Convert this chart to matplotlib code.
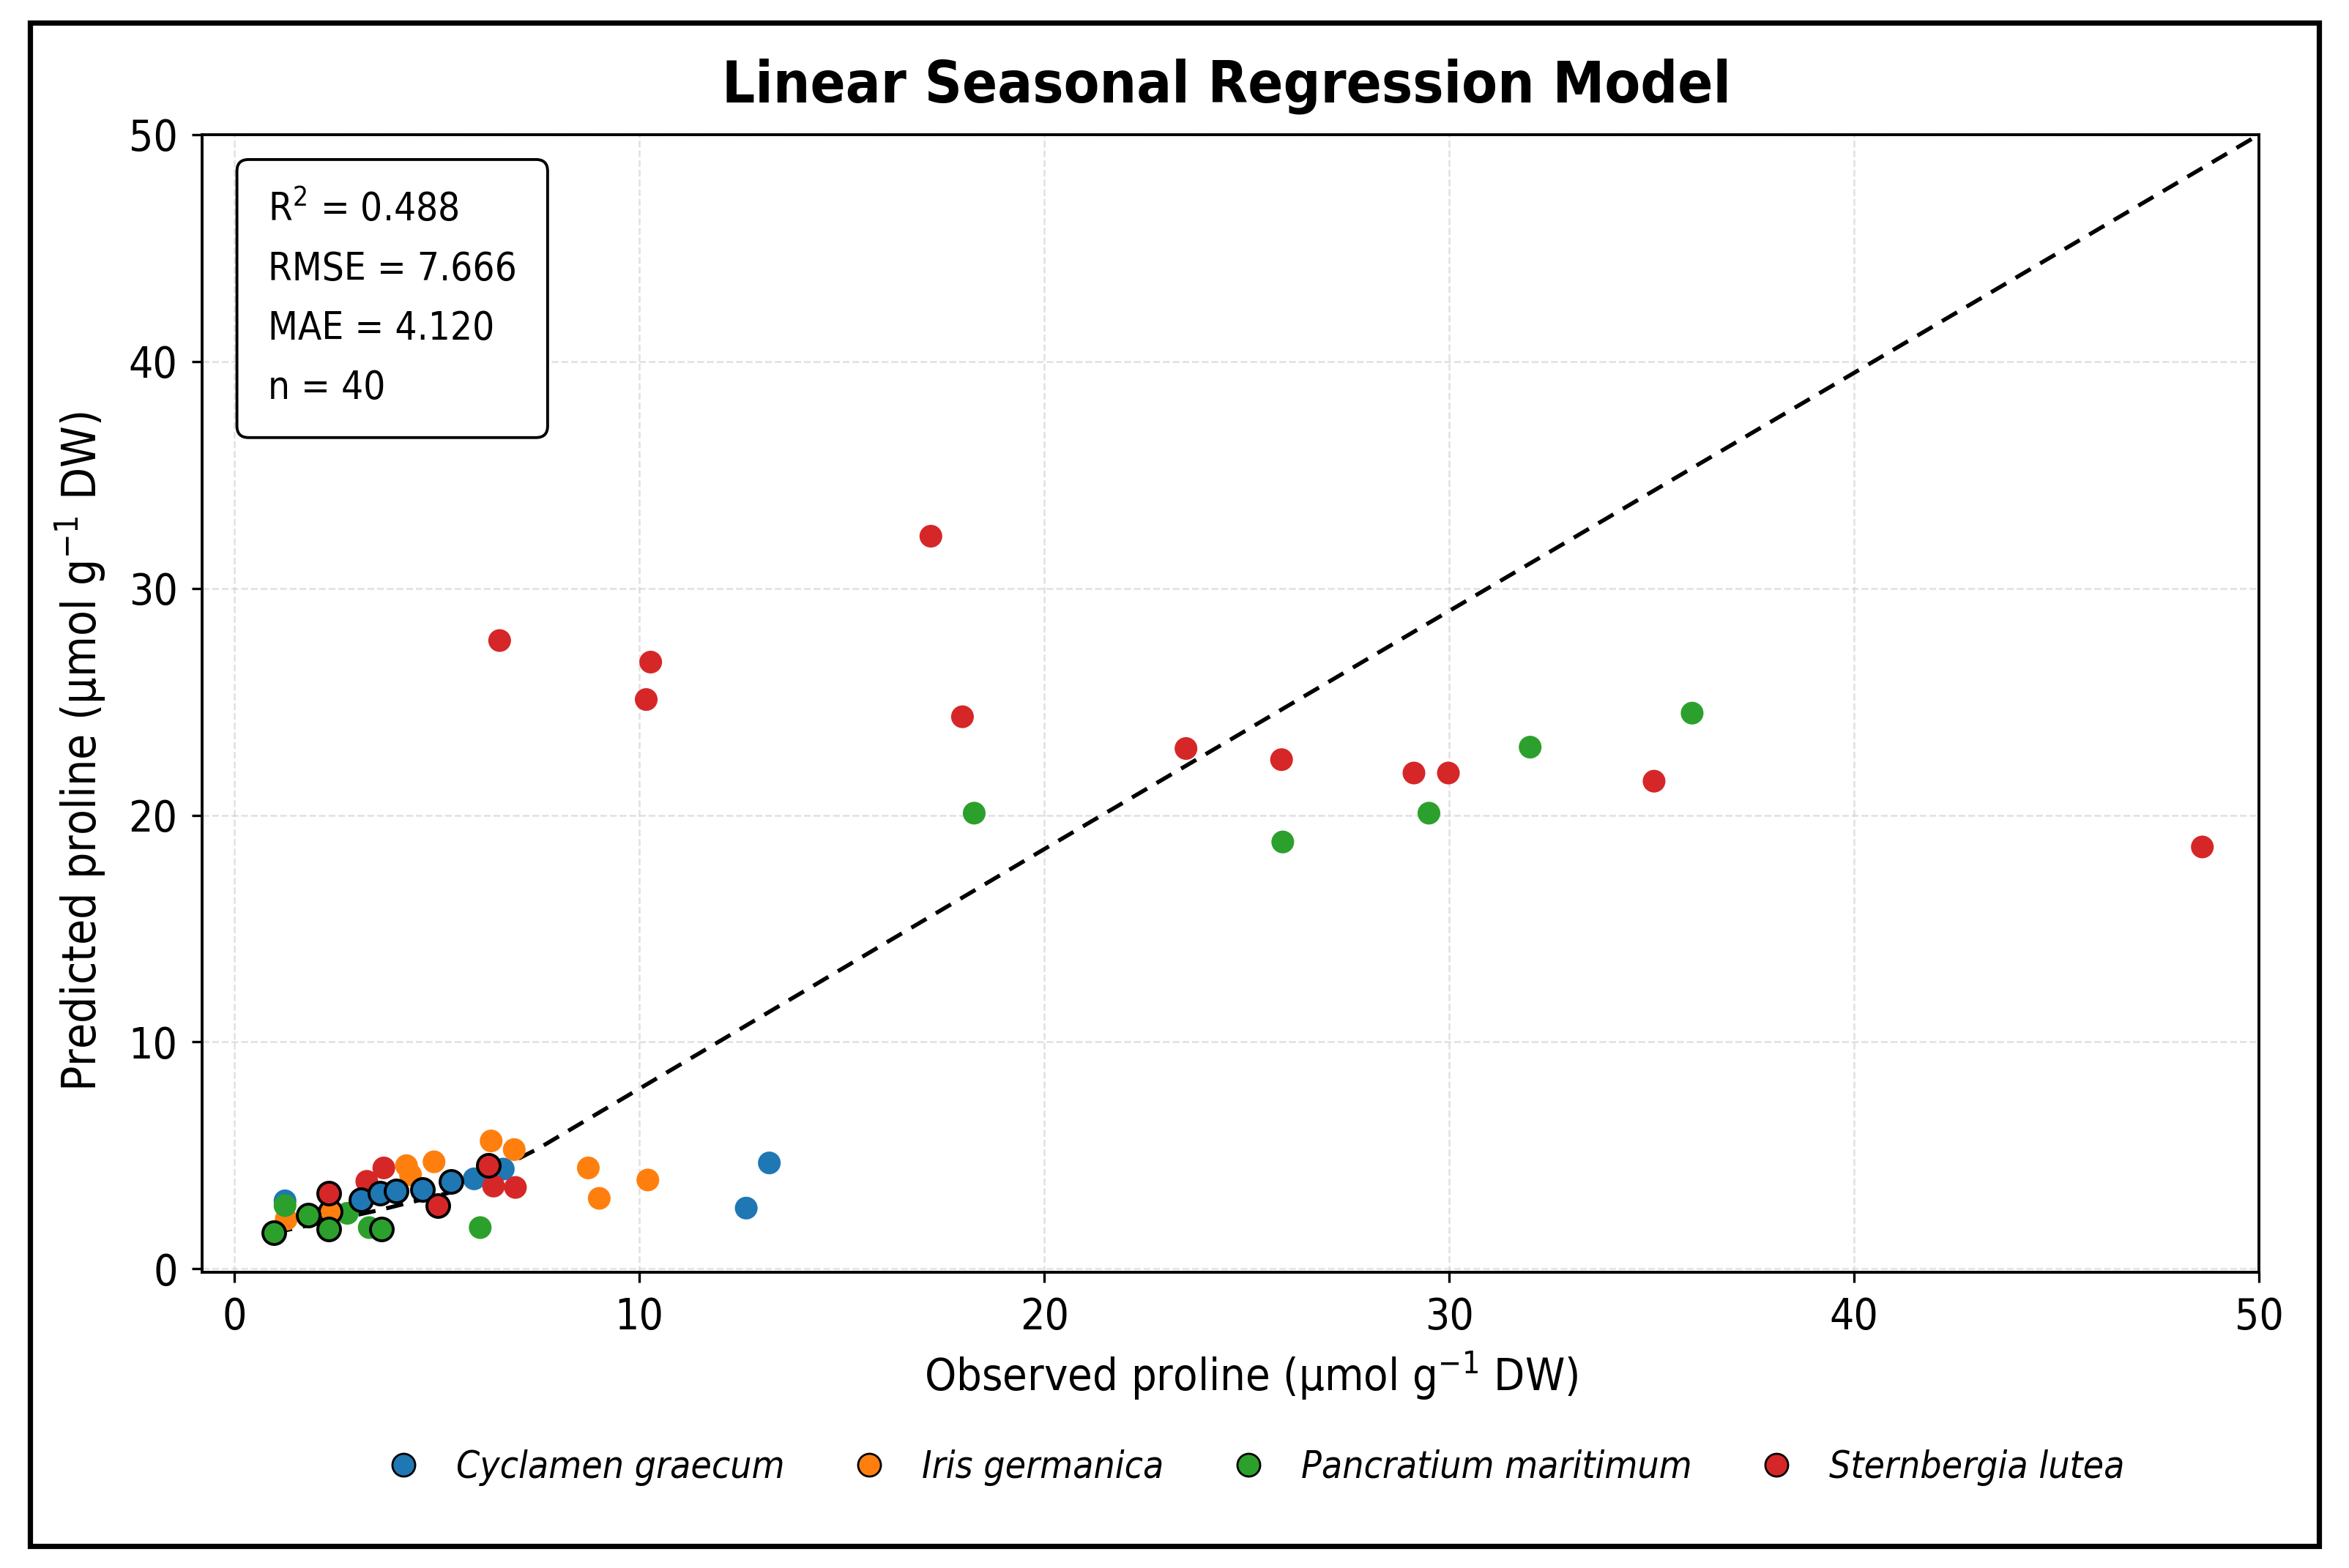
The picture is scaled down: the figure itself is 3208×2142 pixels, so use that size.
import matplotlib
matplotlib.use("Agg")
from matplotlib import pyplot as plt
from matplotlib.lines import Line2D
from matplotlib.patches import Rectangle

# observed vs predicted proline
species = ["Cyclamen graecum", "Iris germanica", "Pancratium maritimum", "Sternbergia lutea"]
colors = ["#1f77b4", "#ff7f0e", "#2ca02c", "#d62728"]

cyclamen_obs = [1.25, 3.12, 3.60, 3.99, 4.65, 5.35, 5.92, 6.64, 12.64, 13.21]
cyclamen_pred = [3.00, 3.06, 3.32, 3.43, 3.49, 3.86, 3.97, 4.40, 2.68, 4.67]
cyclamen_outline = [0, 1, 1, 1, 1, 1, 0, 0, 0, 0]

iris_obs = [1.28, 2.36, 4.25, 4.35, 4.93, 6.34, 6.91, 8.74, 9.01, 10.21]
iris_pred = [2.19, 2.52, 4.55, 4.15, 4.72, 5.64, 5.26, 4.45, 3.11, 3.92]
iris_outline = [0, 1, 0, 0, 0, 0, 0, 0, 0, 0]

pancratium_obs = [0.98, 1.25, 1.82, 2.33, 2.79, 3.33, 3.63, 6.07, 18.27, 25.89, 29.50, 32.00, 36.00]
pancratium_pred = [1.60, 2.79, 2.36, 1.77, 2.45, 1.82, 1.77, 1.82, 20.09, 18.82, 20.09, 23.00, 24.50]
pancratium_outline = [1, 0, 1, 1, 0, 0, 1, 0, 0, 0, 0, 0, 0]

sternbergia_obs = [2.33, 3.27, 3.69, 5.02, 6.28, 6.40, 6.94, 6.55, 10.28, 10.17, 17.20, 17.98,
                   23.50, 25.86, 29.13, 29.98, 35.06, 48.60]
sternbergia_pred = [3.35, 3.86, 4.45, 2.79, 4.56, 3.65, 3.59, 27.70, 26.75, 25.10, 32.30, 24.34,
                    22.94, 22.45, 21.86, 21.86, 21.50, 18.60]
sternbergia_outline = [1, 0, 0, 1, 1, 0, 0, 0, 0, 0, 0, 0, 0, 0, 0, 0, 0, 0]

# dashed reference line as it runs in the picture
ref_x = [1.0, 3.6, 5.4, 7.5, 19.9, 50.0]
ref_y = [1.6, 2.6, 3.4, 5.3, 18.4, 50.0]

stats_text = "R$^2$ = 0.488\nRMSE = 7.666\nMAE = 4.120\nn = 40"

groups = [
    (cyclamen_obs, cyclamen_pred, cyclamen_outline),
    (iris_obs, iris_pred, iris_outline),
    (pancratium_obs, pancratium_pred, pancratium_outline),
    (sternbergia_obs, sternbergia_pred, sternbergia_outline),
]

plt.rcParams['font.family'] = ['DejaVu Sans']
plt.rcParams['font.stretch'] = 'condensed'
plt.rcParams['mathtext.fontset'] = 'dejavusans'

fig = plt.figure(figsize=(16.04, 10.71), dpi=200)
ax = fig.add_axes([0.086, 0.1886, 0.8757, 0.7255])

ax.plot(ref_x, ref_y, color="black", linewidth=2.0, dashes=(4.3, 2.7), zorder=2)

for (obs, pred, outline), col in zip(groups, colors):
    plain = [i for i, o in enumerate(outline) if not o]
    ringed = [i for i, o in enumerate(outline) if o]
    ax.scatter([obs[i] for i in plain], [pred[i] for i in plain], s=125, color=col,
               edgecolors="none", zorder=3)
    ax.scatter([obs[i] for i in ringed], [pred[i] for i in ringed], s=125, color=col,
               edgecolors="black", linewidths=1.4, zorder=4)

ax.set_xlim(-0.8, 50)
ax.set_ylim(-0.15, 50)
ax.set_xticks(range(0, 51, 10))
ax.set_yticks(range(0, 51, 10))
ax.grid(True, linestyle="--", color="#cccccc", alpha=0.6, linewidth=0.9)
ax.set_axisbelow(True)
ax.tick_params(labelsize=21, length=5, width=1.2, pad=7)
for sp in ax.spines.values():
    sp.set_linewidth(1.4)

ax.set_xlabel("Observed proline (\u03bcmol g$^{-1}$ DW)", fontsize=22)
ax.set_ylabel("Predicted proline (\u03bcmol g$^{-1}$ DW)", fontsize=23)
ax.xaxis.set_label_coords(0.510, -0.068)
ax.yaxis.set_label_coords(-0.046, 0.458)
ax.set_title("Linear Seasonal Regression Model", fontsize=28.5, fontweight="bold", pad=16, x=0.498)

ax.text(0.032, 0.951, stats_text, transform=ax.transAxes, fontsize=19, va="top", ha="left",
        linespacing=1.7,
        bbox=dict(boxstyle="round,pad=0.8,rounding_size=0.3", facecolor="white",
                  edgecolor="black", linewidth=1.4))

handles = [Line2D([], [], marker="o", linestyle="", markersize=11.2, markerfacecolor=c,
                  markeredgecolor="black", markeredgewidth=1.0) for c in colors]
leg = fig.legend(handles, species, loc="center", bbox_to_anchor=(0.534, 0.064), ncol=4,
                 frameon=False, handlelength=1.0, handletextpad=0.9, columnspacing=1.75,
                 prop={"size": 18.5, "style": "italic", "stretch": "condensed"})

fig.patches.append(Rectangle((0.0128, 0.014), 0.9744, 0.9715, transform=fig.transFigure,
                             fill=False, edgecolor="black", linewidth=2.6))

fig.savefig("out.png", dpi=200)
